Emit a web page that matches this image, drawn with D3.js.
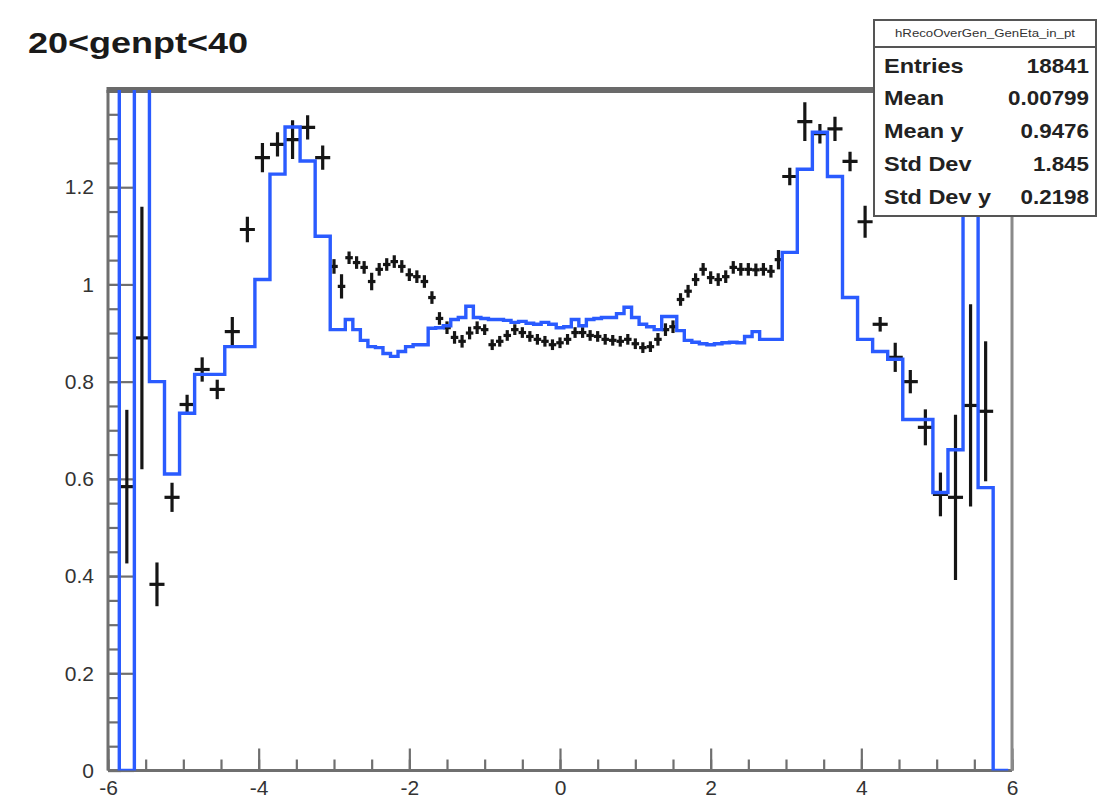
<!DOCTYPE html>
<html>
<head>
<meta charset="utf-8">
<script src="https://cdn.jsdelivr.net/npm/d3@7"></script>
<style>
  html, body { margin: 0; padding: 0; background: #ffffff; }
  svg { display: block; font-family: "Liberation Sans", Arial, Helvetica, sans-serif; }
</style>
</head>
<body>
<svg id="chart" width="1099" height="804"></svg>
<script>
// ---- histogram (blue) : bin edges and contents ----
const blueEdges = [
  -6.05, -5.85, -5.65, -5.45, -5.25, -5.05, -4.85, -4.65, -4.45, -4.25, -4.05,
  -3.85, -3.65, -3.45, -3.25, -3.05,
  -2.95, -2.85, -2.75, -2.65, -2.55, -2.45, -2.35, -2.25, -2.15, -2.05,
  -1.95, -1.85, -1.75, -1.65, -1.55, -1.45, -1.35, -1.25, -1.15, -1.05,
  -0.95, -0.85, -0.75, -0.65, -0.55, -0.45, -0.35, -0.25, -0.15, -0.05,
  0.05, 0.15, 0.25, 0.35, 0.45, 0.55, 0.65, 0.75, 0.85, 0.95,
  1.05, 1.15, 1.25, 1.35, 1.45, 1.55, 1.65, 1.75, 1.85, 1.95,
  2.05, 2.15, 2.25, 2.35, 2.45, 2.55, 2.65, 2.75, 2.85, 2.95,
  3.15, 3.35, 3.55, 3.75, 3.95, 4.15, 4.35, 4.55, 4.75, 4.95,
  5.15, 5.35, 5.55, 5.75, 5.95
];
const blueValues = [
  1.9, 0, 1.9, 0.80, 0.61, 0.735, 0.815, 0.815, 0.872, 0.872,
  1.01, 1.227, 1.324, 1.254, 1.099,
  0.907, 0.907, 0.928, 0.907, 0.885, 0.872, 0.870, 0.858, 0.852, 0.862,
  0.872, 0.876, 0.876, 0.910, 0.911, 0.915, 0.928, 0.932, 0.955, 0.932,
  0.930, 0.928, 0.928, 0.926, 0.922, 0.924, 0.920, 0.918, 0.922, 0.918,
  0.911, 0.913, 0.928, 0.915, 0.928, 0.930, 0.932, 0.932, 0.940, 0.953,
  0.932, 0.918, 0.913, 0.907, 0.934, 0.934, 0.905, 0.885, 0.881, 0.878,
  0.876, 0.878, 0.880, 0.881, 0.880, 0.893, 0.903, 0.887, 0.887, 0.887,
  1.066, 1.237, 1.313, 1.222, 0.973, 0.887, 0.862, 0.846, 0.722, 0.722,
  0.572, 0.660, 1.9, 0.582, 0
];

// ---- profile points (black) : x, mean, half bin width, error ----
const profX = [
  -5.75, -5.55, -5.35, -5.15, -4.95, -4.75, -4.55, -4.35, -4.15, -3.95, -3.75, -3.55, -3.35, -3.15,
  -3.0, -2.9, -2.8, -2.7, -2.6, -2.5, -2.4, -2.3, -2.2, -2.1,
  -2.0, -1.9, -1.8, -1.7, -1.6, -1.5, -1.4, -1.3, -1.2, -1.1,
  -1.0, -0.9, -0.8, -0.7, -0.6, -0.5, -0.4, -0.3, -0.2, -0.1,
  0.0, 0.1, 0.2, 0.3, 0.4, 0.5, 0.6, 0.7, 0.8, 0.9,
  1.0, 1.1, 1.2, 1.3, 1.4, 1.5, 1.6, 1.7, 1.8, 1.9,
  2.0, 2.1, 2.2, 2.3, 2.4, 2.5, 2.6, 2.7, 2.8, 2.9,
  3.05, 3.25, 3.45, 3.65, 3.85, 4.05, 4.25, 4.45, 4.65, 4.85, 5.05, 5.25, 5.45, 5.65
];
const profY = [
  0.584, 0.890, 0.383, 0.562, 0.753, 0.825, 0.784, 0.903, 1.113, 1.261, 1.288, 1.298, 1.323, 1.261,
  1.037, 0.996, 1.055, 1.045, 1.035, 1.006, 1.031, 1.041, 1.047, 1.037,
  1.020, 1.016, 1.006, 0.973, 0.930, 0.911, 0.891, 0.883, 0.900, 0.911,
  0.907, 0.876, 0.883, 0.895, 0.907, 0.901, 0.893, 0.887, 0.883, 0.876,
  0.880, 0.887, 0.901, 0.901, 0.895, 0.893, 0.887, 0.885, 0.883, 0.887,
  0.878, 0.870, 0.872, 0.887, 0.907, 0.913, 0.969, 0.986, 1.010, 1.031,
  1.014, 1.010, 1.016, 1.035, 1.031, 1.031, 1.030, 1.031, 1.027, 1.051,
  1.222, 1.335, 1.310, 1.320, 1.253, 1.129, 0.918, 0.850, 0.800, 0.706, 0.568, 0.562, 0.751, 0.739
];
const profXErr = [
  0.1, 0.1, 0.1, 0.1, 0.1, 0.1, 0.1, 0.1, 0.1, 0.1, 0.1, 0.1, 0.1, 0.1,
  0.05, 0.05, 0.05, 0.05, 0.05, 0.05, 0.05, 0.05, 0.05, 0.05,
  0.05, 0.05, 0.05, 0.05, 0.05, 0.05, 0.05, 0.05, 0.05, 0.05,
  0.05, 0.05, 0.05, 0.05, 0.05, 0.05, 0.05, 0.05, 0.05, 0.05,
  0.05, 0.05, 0.05, 0.05, 0.05, 0.05, 0.05, 0.05, 0.05, 0.05,
  0.05, 0.05, 0.05, 0.05, 0.05, 0.05, 0.05, 0.05, 0.05, 0.05,
  0.05, 0.05, 0.05, 0.05, 0.05, 0.05, 0.05, 0.05, 0.05, 0.05,
  0.1, 0.1, 0.1, 0.1, 0.1, 0.1, 0.1, 0.1, 0.1, 0.1, 0.1, 0.1, 0.1, 0.1
];
const profYErr = [
  0.158, 0.270, 0.045, 0.030, 0.020, 0.025, 0.020, 0.030, 0.026, 0.030, 0.025, 0.040, 0.025, 0.025,
  0.015, 0.025, 0.013, 0.013, 0.013, 0.018, 0.013, 0.013, 0.013, 0.013,
  0.013, 0.013, 0.013, 0.013, 0.013, 0.013, 0.013, 0.013, 0.013, 0.013,
  0.011, 0.011, 0.011, 0.011, 0.011, 0.011, 0.011, 0.011, 0.011, 0.011,
  0.011, 0.011, 0.011, 0.011, 0.011, 0.011, 0.011, 0.011, 0.011, 0.011,
  0.011, 0.011, 0.011, 0.013, 0.013, 0.013, 0.013, 0.013, 0.013, 0.013,
  0.013, 0.013, 0.013, 0.013, 0.013, 0.013, 0.013, 0.013, 0.013, 0.020,
  0.018, 0.040, 0.020, 0.025, 0.020, 0.033, 0.015, 0.030, 0.024, 0.037, 0.045, 0.170, 0.208, 0.144
];

// ---- axes ----
const xTicks = [-6, -4, -2, 0, 2, 4, 6];
const yTicks = [0, 0.2, 0.4, 0.6, 0.8, 1, 1.2];
const xDomain = [-6, 6];
const yDomain = [0, 1.4];

// ---- text ----
const titleText = "20<genpt<40";
const statsName = "hRecoOverGen_GenEta_in_pt";
const statsLabels = ["Entries", "Mean", "Mean y", "Std Dev", "Std Dev y"];
const statsValues = ["18841", "0.00799", "0.9476", "1.845", "0.2198"];

// ---- layout ----
const frame = { left: 108, right: 1012, top: 90, bottom: 770.5 };
const svg = d3.select("#chart");
const x = d3.scaleLinear().domain(xDomain).range([frame.left, frame.right]);
const y = d3.scaleLinear().domain(yDomain).range([frame.bottom, frame.top]);

svg.append("rect").attr("width", 1099).attr("height", 804).attr("fill", "#ffffff");

svg.append("defs").append("clipPath").attr("id", "frameClip")
  .append("rect")
  .attr("x", frame.left).attr("y", frame.top)
  .attr("width", frame.right - frame.left).attr("height", frame.bottom - frame.top);

// axes: ticks point into the frame
const axisColor = "#6f6f6f";
const xMinorTicks = d3.range(-6, 6.001, 0.5);
const yMinorTicks = d3.range(0, 1.4001, 0.05);

const gxMinor = svg.append("g").attr("transform", `translate(0,${frame.bottom})`)
  .call(d3.axisBottom(x).tickValues(xMinorTicks).tickSize(-11).tickFormat(""));
const gx = svg.append("g").attr("transform", `translate(0,${frame.bottom})`)
  .call(d3.axisBottom(x).tickValues(xTicks).tickSize(-22).tickPadding(9)
        .tickFormat(d => d3.format("d")(d)));
const gyMinor = svg.append("g").attr("transform", `translate(${frame.left},0)`)
  .call(d3.axisLeft(y).tickValues(yMinorTicks).tickSize(-13).tickFormat(""));
const gy = svg.append("g").attr("transform", `translate(${frame.left},0)`)
  .call(d3.axisLeft(y).tickValues(yTicks).tickSize(-26).tickPadding(14)
        .tickFormat(d => d3.format("~g")(d)));

[gxMinor, gx, gyMinor, gy].forEach(g => {
  g.select(".domain").remove();
  g.selectAll(".tick line").attr("stroke", axisColor).attr("stroke-width", 2.2);
});
gx.selectAll(".tick text").attr("font-size", 21).attr("fill", "#333").attr("dy", "0.75em")
  .text(d => d < 0 ? "-" + Math.abs(d) : String(d));
gy.selectAll(".tick text").attr("font-size", 21).attr("fill", "#333");

// frame
svg.append("line").attr("x1", frame.left).attr("x2", frame.right)
  .attr("y1", frame.bottom).attr("y2", frame.bottom)
  .attr("stroke", axisColor).attr("stroke-width", 3);
svg.append("line").attr("x1", frame.left).attr("x2", frame.left)
  .attr("y1", frame.top).attr("y2", frame.bottom)
  .attr("stroke", axisColor).attr("stroke-width", 3);
svg.append("line").attr("x1", frame.right).attr("x2", frame.right)
  .attr("y1", frame.top).attr("y2", frame.bottom)
  .attr("stroke", "#8a8a8a").attr("stroke-width", 3);
svg.append("line").attr("x1", frame.left - 1.5).attr("x2", frame.right + 1.5)
  .attr("y1", frame.top).attr("y2", frame.top)
  .attr("stroke", "#6a6a6a").attr("stroke-width", 6);

// profile points with error bars
const plot = svg.append("g").attr("clip-path", "url(#frameClip)");
const pts = profX.map((px, i) => ({ x: px, y: profY[i], ex: profXErr[i], ey: profYErr[i] }));
const pg = plot.append("g").attr("stroke", "#151515").attr("stroke-width", 3.2);
pg.selectAll("line.h").data(pts).join("line").attr("class", "h")
  .attr("x1", d => x(d.x - d.ex)).attr("x2", d => x(d.x + d.ex))
  .attr("y1", d => y(d.y)).attr("y2", d => y(d.y));
pg.selectAll("line.v").data(pts).join("line").attr("class", "v")
  .attr("x1", d => x(d.x)).attr("x2", d => x(d.x))
  .attr("y1", d => y(d.y - d.ey)).attr("y2", d => y(d.y + d.ey));

// statistics box
const sb = { x: 874, y: 20, w: 222, h: 196, head: 27 };
svg.append("rect").attr("x", sb.x).attr("y", sb.y).attr("width", sb.w).attr("height", sb.h)
  .attr("fill", "#ffffff").attr("stroke", "#555").attr("stroke-width", 2);
svg.append("line").attr("x1", sb.x).attr("x2", sb.x + sb.w)
  .attr("y1", sb.y + sb.head).attr("y2", sb.y + sb.head)
  .attr("stroke", "#555").attr("stroke-width", 2);
svg.append("text").attr("x", sb.x + sb.w / 2).attr("y", sb.y + sb.head / 2 + 3)
  .attr("text-anchor", "middle").attr("font-size", 10).attr("fill", "#333")
  .attr("textLength", 180).attr("lengthAdjust", "spacingAndGlyphs")
  .text(statsName);
const rowY = [66, 98, 131, 164, 197];
statsLabels.forEach((lab, i) => {
  svg.append("g").attr("transform", `translate(${sb.x + 10},${rowY[i]}) scale(1.12,1)`)
    .append("text").attr("dy", "0.35em")
    .attr("font-size", 21).attr("font-weight", "bold").attr("fill", "#222").text(lab);
  svg.append("g").attr("transform", `translate(${sb.x + sb.w - 7},${rowY[i]}) scale(1.12,1)`)
    .append("text").attr("dy", "0.35em")
    .attr("text-anchor", "end").attr("font-size", 20).attr("font-weight", "bold")
    .attr("fill", "#222").text(statsValues[i]);
});

// blue histogram outline (drawn on top, clipped to the frame)
const stepPts = [[blueEdges[0], 0]];
blueValues.forEach((v, i) => {
  stepPts.push([blueEdges[i], v]);
  stepPts.push([blueEdges[i + 1], v]);
});
stepPts.push([blueEdges[blueEdges.length - 1], 0]);
plot.append("path")
  .attr("d", d3.line().x(d => x(d[0])).y(d => y(d[1]))(stepPts))
  .attr("fill", "none").attr("stroke", "#2a5bff").attr("stroke-width", 3.4)
  .attr("stroke-linejoin", "miter");

// title
svg.append("g").attr("transform", "translate(28,42) scale(1.2,1)")
  .append("text").attr("dy", "0.35em")
  .attr("font-size", 30).attr("font-weight", "bold").attr("fill", "#1a1a1a")
  .text(titleText);
</script>
</body>
</html>
